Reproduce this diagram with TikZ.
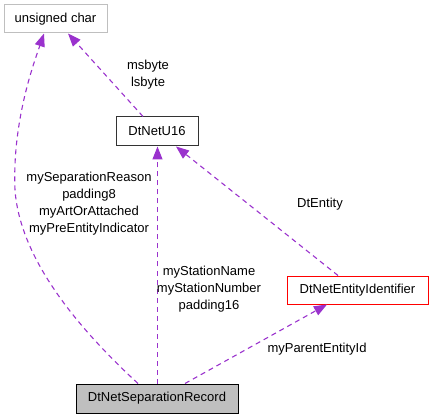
\documentclass[tikz,border=0pt]{standalone}
\usepackage{fontspec}
\setmainfont{Liberation Sans}
\usetikzlibrary{arrows.meta}

\definecolor{edgepurple}{HTML}{9A32CD}
\definecolor{boxgray}{HTML}{BFBFBF}

\begin{document}
\begin{tikzpicture}[x=1pt, y=-1pt,
  font=\fontsize{13}{17}\selectfont,
  classbox/.style={draw, line width=1pt, inner sep=0pt, align=center},
  usage/.style={draw=edgepurple, line width=1.1pt, dash pattern=on 5pt off 4pt,
    -{Triangle[length=13pt,width=10pt,fill=edgepurple]}},
  edgelabel/.style={inner sep=0pt, align=center}]
\useasboundingbox (0,0) rectangle (433,419);

% Classes
\node[classbox, draw=boxgray, minimum width=103pt, minimum height=28pt] at (55.5,19) (uchar) {unsigned char};
\node[classbox, draw=black!80, minimum width=82pt, minimum height=29pt] at (157,131.5) (u16) {DtNetU16};
\node[classbox, draw=red, minimum width=141pt, minimum height=28pt] at (357.5,290) (ident) {DtNetEntityIdentifier};
\node[classbox, fill=boxgray, draw=black, minimum width=162pt, minimum height=29pt] at (157,398.5) (rec) {DtNetSeparationRecord};

% Usage edges
\draw[usage] ([xshift=-19pt]rec.north) .. controls (80,330) and (20,260) .. (15,190)
  .. controls (12,120) and (35,60) .. ([xshift=-11.5pt]uchar.south);
\draw[usage] ([xshift=-14pt]u16.north) -- ([xshift=12.5pt]uchar.south);
\draw[usage] ([xshift=0.5pt]rec.north) -- ([xshift=0.5pt]u16.south);
\draw[usage] ([xshift=-19.5pt]ident.north) -- ([xshift=19pt]u16.south);
\draw[usage] ([xshift=28pt]rec.north) -- ([xshift=-30.5pt]ident.south);

% Edge labels
\node[edgelabel] at (148,75) (lbytes) {msbyte\\lsbyte};
\node[edgelabel] at (89,204) (lchars) {mySeparationReason\\padding8\\myArtOrAttached\\myPreEntityIndicator};
\node[edgelabel] at (320,204) (lentity) {DtEntity};
\node[edgelabel] at (209,289.5) (lstation) {myStationName\\myStationNumber\\padding16};
\node[edgelabel] at (317,349) (lparent) {myParentEntityId};
\end{tikzpicture}
\end{document}
